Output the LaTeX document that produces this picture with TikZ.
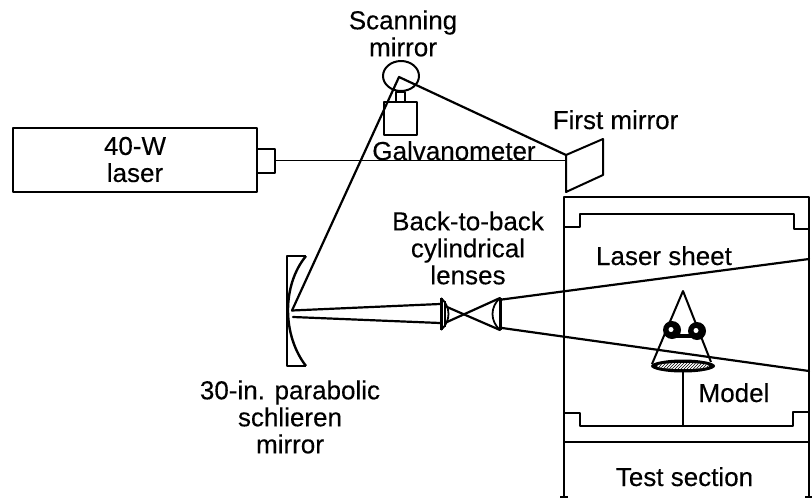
\documentclass[tikz,border=0pt]{standalone}
\usepackage{fontspec}
\setmainfont{Liberation Sans}[FakeBold=0.25]
\usetikzlibrary{patterns,shapes.geometric}
\tikzset{
    label text/.style={align=center, inner sep=0pt, font=\fontsize{26}{27}\selectfont},
    part box/.style={draw, rectangle, inner sep=0pt, line width=2pt},
    wall/.style={line width=2pt, line join=round},
    beam/.style={line width=2.2pt, line cap=round},
    lens/.style={line width=1.8pt}
}
\begin{document}
\begin{tikzpicture}[x=1pt, y=-1pt, every path/.style={line join=round}]
    \useasboundingbox (0,0) rectangle (812,498);
    %Laser and galvanometer
    \node[part box, label text, minimum width=244pt, minimum height=64pt] (laser) at (135,159.5) {40-W\\laser};
    \node[part box, minimum width=18pt, minimum height=24pt] (nozzle) at (266,160.5) {};
    \node[part box, minimum width=33pt, minimum height=33pt] (galvo) at (400.5,118.5) {};
    \node[part box, minimum width=9pt, minimum height=10pt] (shaft) at (400.5,96.5) {};
    \node[draw, ellipse, inner sep=0pt, line width=2pt, minimum width=36pt, minimum height=30pt] (scanner) at (401,76) {};
    %First mirror
    \coordinate (first top) at (566,155);
    \coordinate (first low) at (566,192);
    \draw[wall] (first top) -- (603,139) -- (603,175) -- (first low) -- cycle;
    %Schlieren mirror
    \coordinate (para top) at (306,256);
    \coordinate (para low) at (306,366);
    \draw[wall] (para top) -- (287,256) -- (287,366) -- (para low);
    \draw[line width=2.4pt] (para top) .. controls (282,285) and (282,335) .. (para low);
    %Beam
    \coordinate (spot) at (399,77);
    \coordinate (para hit) at (292,310.5);
    \coordinate (para out) at (293,317);
    \draw[line width=1.5pt] (nozzle.east) -- (nozzle.east -| first top);
    \draw[beam] (first top) -- (spot) -- (para hit);
    %Lenses
    \coordinate (lens a top) at (441,298);
    \coordinate (lens a low) at (441,330);
    \coordinate (lens b top) at (500,298);
    \coordinate (lens b low) at (500,330);
    \draw[lens, line width=3pt] (lens a top) -- (lens a low);
    \draw[lens] (lens a top) .. controls (451,307) and (451,321) .. (lens a low);
    \draw[lens] (445,301) -- (445,327);
    \draw[lens, line width=3pt] (lens b top) -- (lens b low);
    \draw[lens] (lens b top) .. controls (490,307) and (490,321) .. (lens b low);
    \draw[beam] (para hit) -- (440,304);
    \draw[beam] (para out) -- (440,323);
    \draw[beam] (447,307) -- (lens b low);
    \draw[beam] (447,322) -- (lens b top);
    \draw[beam] (lens b top) ++(2,1.5) -- (809,259);
    \draw[beam] (lens b low) ++(2,-2) -- (809,371);
    %Test section
    \draw[wall] (564,498) -- (564,197) -- (809,197) -- (809,498);
    \draw[wall] (564,226.5) -- (580,226.5) -- (580,214) -- (794,214) -- (794,229) -- (809,229);
    \draw[wall] (564,413) -- (580,413) -- (580,426) -- (793,426) -- (793,412) -- (809,412);
    \draw[wall] (564,442) -- (809,442);
    \draw[wall] (560,496.5) -- (568,496.5);
    \draw[wall] (805,496.5) -- (812,496.5);
    %Model
    \draw[wall] (683,371) -- (683,426);
    \draw[wall] (652,364) -- (683,291) -- (711,362);
    \fill (683,366) ellipse [x radius=32, y radius=6.5];
    \fill[white] (683,366) ellipse [x radius=26, y radius=3];
    \fill[pattern=north east lines] (683,366) ellipse [x radius=26, y radius=3];
    \fill (672,330) circle [radius=9];
    \fill (697,331) circle [radius=9];
    \draw[line width=4.5pt] (675,336) -- (695,336);
    \fill[white] (671,329.5) circle [radius=2.5];
    \fill[white] (696,330.5) circle [radius=2.5];
    %Labels
    \node[label text] (scanning label) at (403,33.5) {Scanning\\mirror};
    \node[label text, anchor=base] (first label) at (615.5,129) {First mirror};
    \node[label text, anchor=base] (galvo label) at (454,160) {Galvanometer};
    \node[label text] (lens label) at (468,248) {Back-to-back\\cylindrical\\lenses};
    \node[label text, anchor=base] (sheet label) at (664,265) {Laser sheet};
    \node[label text, anchor=base] (model label) at (734,402) {Model};
    \node[label text, anchor=base] (section label) at (684.5,486) {Test section};
    \node[label text] (para label) at (290,417) {30-in. parabolic\\schlieren\\mirror};
\end{tikzpicture}
\end{document}
